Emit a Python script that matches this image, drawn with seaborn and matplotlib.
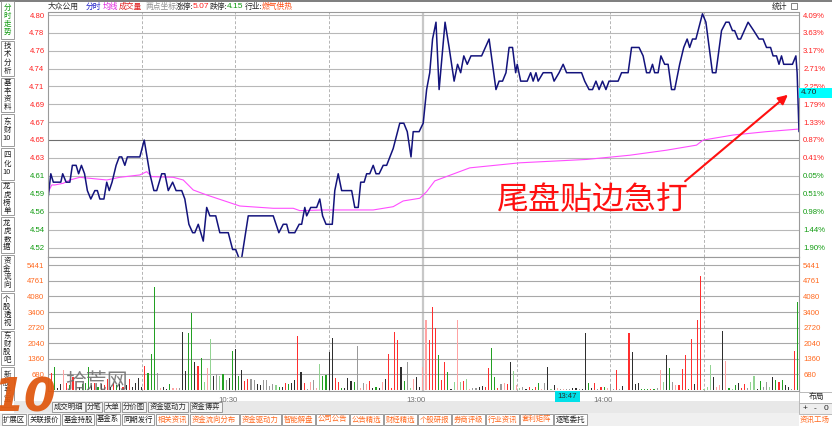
import numpy as np
import pandas as pd
import matplotlib
matplotlib.use("Agg")
import matplotlib.pyplot as plt
from matplotlib.patches import Rectangle
import seaborn as sns

sns.set_style("white")
plt.rcParams["font.family"] = ["Noto Sans CJK SC", "DejaVu Sans"]

# ---------------- data ----------------
pre_close = 4.61
pct_ticks = [4.09, 3.63, 3.17, 2.71, 2.25, 1.79, 1.33, 0.87, 0.41,
             -0.05, -0.51, -0.98, -1.44, -1.90]
price_labels = ["4.80", "4.78", "4.76", "4.74", "4.71", "4.69", "4.67", "4.65",
                "4.63", "4.61", "4.59", "4.56", "4.54", "4.52"]
pct_labels = ["4.09%", "3.63%", "3.17%", "2.71%", "2.25%", "1.79%", "1.33%", "0.87%",
              "0.41%", "0.05%", "0.51%", "0.98%", "1.44%", "1.90%"]
vol_top = 5441
vol_labels = ["5441", "4761", "4080", "3400", "2720", "2040", "1360", "680"]
time_labels = ["10:30", "13:00", "14:00"]
time_minutes = [60, 120, 180]

price_min = [0.0, 0.9, 1.7, 4.1, 4.7, 5.8, 7.0, 7.8, 9.0, 9.8, 10.7, 11.7, 12.6, 13.7,
             15.0, 15.8, 16.6, 17.9, 18.8, 19.6, 20.5, 21.8, 22.8, 23.6, 24.6, 25.4,
             29.4, 30.8, 32.6, 33.9, 34.8, 36.4, 37.4, 38.5, 39.9, 41.0, 42.8, 43.8,
             45.1, 46.3, 47.0, 48.1, 49.7, 50.8, 51.8, 53.7, 55.0, 57.7, 59.1, 60.1,
             61.1, 62.0, 64.1, 72.1, 73.9, 75.3, 76.4, 77.1, 79.0, 80.4, 81.2, 82.2,
             82.8, 84.1, 86.0, 87.0, 87.9, 89.0, 91.0, 91.8, 92.9, 94.0, 97.2, 98.2,
             99.3, 100.1, 101.2, 102.0, 103.0, 104.1, 105.0, 106.0, 107.3, 108.4,
             110.5, 112.6, 113.9, 115.0, 116.2, 116.9, 118.8, 120.1, 121.2, 122.2,
             123.1, 124.2, 125.2, 127.1, 128.4, 130.0, 131.1, 132.1, 133.1, 134.2,
             135.4, 138.8, 141.2, 142.3, 143.4, 144.4, 145.5, 146.6, 147.6, 148.7,
             149.7, 150.2, 151.3, 153.4, 154.5, 155.3, 156.2, 156.9, 158.5, 161.2,
             162.0, 163.6, 164.9, 166.0, 170.8, 171.8, 173.2, 174.3, 175.4, 176.4,
             177.5, 178.6, 179.6, 182.5, 183.6, 185.7, 186.8, 189.2, 190.5, 191.6,
             192.6, 193.5, 194.2, 195.3, 196.2, 197.4, 198.5, 199.6, 200.6, 202.2,
             203.5, 204.6, 205.4, 206.3, 207.4, 208.1, 209.5, 210.6, 212.7, 213.8,
             215.6, 217.0, 218.0, 219.1, 219.8, 220.9, 221.7, 224.1, 225.9, 227.6,
             228.9, 230.0, 231.3, 232.1, 233.2, 234.0, 234.8, 235.5, 238.3, 239.4,
             239.8, 240.4]
price_val = [4.58, 4.61, 4.60, 4.60, 4.61, 4.60, 4.60, 4.62, 4.62, 4.61, 4.62, 4.61, 4.59, 4.58,
             4.59, 4.59, 4.58, 4.58, 4.60, 4.59, 4.60, 4.62, 4.63, 4.63, 4.62, 4.63,
             4.63, 4.65, 4.61, 4.59, 4.59, 4.61, 4.61, 4.59, 4.60, 4.59, 4.59, 4.58,
             4.55, 4.54, 4.54, 4.55, 4.53, 4.57, 4.56, 4.56, 4.54, 4.54, 4.52, 4.52,
             4.51, 4.51, 4.56, 4.56, 4.54, 4.55, 4.55, 4.54, 4.54, 4.55, 4.55, 4.57,
             4.56, 4.57, 4.57, 4.58, 4.56, 4.55, 4.55, 4.59, 4.61, 4.59, 4.59, 4.57,
             4.57, 4.60, 4.60, 4.61, 4.61, 4.62, 4.61, 4.61, 4.62, 4.62,
             4.64, 4.67, 4.67, 4.66, 4.63, 4.66, 4.66, 4.67, 4.71, 4.73,
             4.77, 4.79, 4.71, 4.79, 4.76, 4.72, 4.74, 4.73, 4.75, 4.74,
             4.75, 4.75, 4.77, 4.74, 4.71, 4.72, 4.72, 4.73, 4.76, 4.76,
             4.73, 4.74, 4.72, 4.72, 4.73, 4.72, 4.73, 4.72, 4.73, 4.73,
             4.72, 4.73, 4.74, 4.73, 4.73, 4.72, 4.71, 4.71, 4.72, 4.71,
             4.72, 4.71, 4.72, 4.72, 4.73, 4.73, 4.76, 4.76, 4.75, 4.73,
             4.73, 4.74, 4.73, 4.73, 4.75, 4.74, 4.74, 4.71, 4.71, 4.74,
             4.76, 4.77, 4.76, 4.77, 4.77, 4.78, 4.80, 4.79, 4.73, 4.73,
             4.78, 4.79, 4.79, 4.78, 4.78, 4.77, 4.77, 4.79, 4.78, 4.77,
             4.77, 4.76, 4.76, 4.75, 4.75, 4.74, 4.75, 4.74, 4.74, 4.75,
             4.73, 4.66]

avg_min = [0.0, 1.2, 2.2, 4.9, 7.0, 10.2, 13.4, 18.8, 23.0, 29.4, 31.6, 33.2, 40.1,
           43.3, 46.5, 50.8, 57.2, 61.4, 72.1, 78.5, 80.6, 88.1, 104.1, 110.5, 113.7,
           119.0, 121.2, 123.8, 135.0, 151.0, 172.4, 186.2, 198.0, 207.6, 209.7,
           219.3, 230.0, 240.0]
avg_val = [4.5875, 4.5967, 4.5967, 4.5987, 4.6026, 4.6058, 4.6046, 4.6026, 4.6058,
           4.6086, 4.6125, 4.6066, 4.6058, 4.6026, 4.5907, 4.5848, 4.5769, 4.5717,
           4.5690, 4.5690, 4.5662, 4.5670, 4.5670, 4.5709, 4.5777, 4.5809, 4.5887,
           4.6015, 4.6170, 4.6230, 4.6270, 4.6320, 4.6380, 4.6440, 4.6500, 4.6560,
           4.6600, 4.6630]

# volume per minute (0..240) and colour code per minute
vol = [500, 727, 988, 73, 247, 872, 300, 200, 581, 350,
       150, 250, 290, 1017, 200, 300, 150, 250, 200, 480,
       150, 300, 200, 250, 150, 200, 480, 116, 320, 508,
       116, 1061, 727, 1569, 4475, 727, 102, 116, 44, 247,
       73, 102, 102, 2543, 828, 2499, 3371, 1235, 1046, 1380,
       363, 973, 2223, 610, 697, 610, 697, 436, 508, 1700,
       1787, 610, 872, 392, 480, 480, 436, 262, 218, 436,
       436, 174, 247, 218, 116, 145, 290, 262, 290, 436,
       2354, 770, 290, 44, 334, 436, 73, 1119, 625, 654,
       1671, 2281, 508, 363, 102, 73, 508, 392, 334, 1918,
       73, 290, 262, 392, 73, 145, 73, 334, 480, 1569,
       102, 2543, 2180, 988, 392, 1206, 73, 480, 581, 145,
       1017, 3052, 2180, 3633, 2688, 1526, 436, 1235, 799, 44,
       363, 3052, 334, 392, 480, 44, 102, 102, 145, 189,
       145, 944, 1845, 581, 102, 247, 290, 262, 1206, 828,
       218, 73, 145, 44, 116, 44, 116, 290, 44, 290,
       988, 30, 218, 73, 44, 44, 44, 44, 73, 73,
       44, 44, 2499, 290, 73, 290, 44, 116, 116, 73,
       262, 44, 872, 44, 174, 0, 2499, 1642, 262, 290,
       44, 44, 30, 44, 44, 102, 872, 363, 1526, 944,
       334, 218, 218, 915, 1526, 44, 2209, 262, 3052, 4969,
       44, 145, 1090, 552, 145, 218, 2572, 1279, 102, 44,
       218, 320, 73, 262, 102, 363, 610, 44, 392, 145,
       334, 145, 552, 436, 334, 436, 218, 145, 44, 1700,
       3850]
vol_code = ("rrgkkprgrp" "kgggkrgkrr" "krgkrkrkkk" "krgggspkkg" "ppskkggkrg"
            "lplkslgskg" "kgkrrsskks" "ssslgkrgkk" "rkrspsplgg" "kkrrgkkkgs"
            "psprkgkpkr" "rrrkgslpkk" "pprrrgrrgk" "lplrlpsskk" "rrggrsprkl"
            "plskrgrgps" "klkpspsskk" "skkgkrsrgp" "ssrsk" "krkkk" "gggrgsplkg"
            "sprrrgrkrr" "lllkppkpgl" "gkrrsllkgs" "slkgrgkksr" "g")

left_tabs = ["分时走势", "技术分析", "基本资料", "东财F10", "四化F10", "龙虎榜单",
             "龙虎数据", "资金流向", "个股透视", "东财股吧", "新股寻宝"]
row_a = ["成交明细", "分笔", "大单", "分价图", "资金驱动力", "资金博弈"]
row_b = ["扩展区", "关联报价", "基金持股", "基金系", "同期发行", "相关资讯", "资金流向分布",
         "资金驱动力", "智能解盘", "公司公告", "公告精选", "财经精选", "个股研报", "券商评级",
         "行业资讯", "套利矩阵", "逐笔委托"]

# ---------------- drawing ----------------
W, H = 832, 426
fig = plt.figure(figsize=(W / 100, H / 100), dpi=100)


def fx(x):
    return x / W


def fy(y):
    return 1 - y / H


def rect(x0, y0, x1, y1, fc, ec="none", lw=0.8, z=0):
    fig.add_artist(Rectangle((fx(x0), fy(y1)), (x1 - x0) / W, (y1 - y0) / H,
                             transform=fig.transFigure, fc=fc, ec=ec, lw=lw, zorder=z))


def txt(x, y, s, **kw):
    kw.setdefault("va", "center")
    kw.setdefault("fontsize", 5.6)
    kw.setdefault("zorder", 6)
    fig.text(fx(x), fy(y), s, **kw)


red, green, orange = "#ff2020", "#0f9a0f", "#ff6a20"
num_font = dict(family="Liberation Sans", fontsize=5.6)
px_per_price = 842.0
tick_prices = [pre_close * (1 + p / 100) for p in pct_ticks]

ax_p = fig.add_axes([fx(48), fy(257), 751 / W, 244.5 / H])
ax_v = fig.add_axes([fx(48), fy(391), 751 / W, 134 / H])

for ax in (ax_p, ax_v):
    ax.set_xlim(0, 240.4)
    ax.set_xticks([])
    for s in ax.spines.values():
        s.set_color("#9a9a9a")
        s.set_linewidth(0.8)
    for m in [30, 60, 90, 150, 180, 210]:
        ax.axvline(m, color="#b4b4b4", lw=0.7, ls=(0, (3, 2)), zorder=0)
    ax.axvline(120, color="#c8c8c8", lw=1.6, zorder=0)

# price panel
ax_p.set_ylim(tick_prices[0] - (257 - 15) / px_per_price, tick_prices[0] + 2.5 / px_per_price)
for i, tp in enumerate(tick_prices):
    ax_p.axhline(tp, color="#6e6e6e" if i == 7 else "#b8b8b8", lw=0.8, zorder=0)
ax_p.set_yticks(tick_prices)
ax_p.set_yticklabels(price_labels, **num_font)
ax_p.tick_params(axis="y", length=0, pad=2.5)
for i, lab in enumerate(ax_p.get_yticklabels()):
    lab.set_color(red if i < 9 else green)
axr = ax_p.twinx()
axr.set_ylim(ax_p.get_ylim())
axr.set_yticks(tick_prices)
axr.set_yticklabels(pct_labels, **num_font)
axr.tick_params(axis="y", length=0, pad=3)
for i, lab in enumerate(axr.get_yticklabels()):
    lab.set_color(red if i < 9 else green)
for s in axr.spines.values():
    s.set_visible(False)

avg = pd.DataFrame({"t": avg_min, "p": avg_val})
px = pd.DataFrame({"t": price_min, "p": price_val})
sns.lineplot(data=avg, x="t", y="p", ax=ax_p, color="#ff4dff", lw=0.8, estimator=None)
sns.lineplot(data=px, x="t", y="p", ax=ax_p, color="#13137c", lw=1.1, estimator=None)
ax_p.set_xlabel("")
ax_p.set_ylabel("")

# volume panel
bar_colors = {"r": "#ff2e2e", "p": "#ffa3a3", "g": "#23a023", "l": "#92d392",
              "k": "#2e2e2e", "s": "#999999"}
vtick = [vol_top * k / 8 for k in range(8, 0, -1)]
ax_v.set_ylim(-43.6, 5799)
for v in vtick:
    ax_v.axhline(v, color="#a8a8a8", lw=0.8, zorder=0)
minutes = np.arange(len(vol))
ax_v.bar(minutes, vol, width=0.36, color=[bar_colors[c] for c in vol_code], lw=0)
ax_v.set_yticks(vtick)
ax_v.set_yticklabels(vol_labels, color=orange, **num_font)
ax_v.tick_params(axis="y", length=0, pad=2.5)
axvr = ax_v.twinx()
axvr.set_ylim(ax_v.get_ylim())
axvr.set_yticks(vtick)
axvr.set_yticklabels(vol_labels, color=orange, **num_font)
axvr.tick_params(axis="y", length=0, pad=3)
for s in axvr.spines.values():
    s.set_visible(False)
for m, lab in zip(time_minutes, time_labels):
    ax_v.text(m - 2.3, -0.045, lab, transform=ax_v.get_xaxis_transform(), ha="center",
              va="top", color="#707070", **num_font)

# header
rect(0, 0, W, 1.5, "#808080")
txt(47.5, 7, "大众公用")
txt(86, 7, "分时", color="#1c1cc8")
txt(103, 7, "均线", color="#e020e0")
txt(119, 7, "成交量", color="#e02020")
txt(145, 7, "两点坐标", color="#909090")
txt(176, 7, "涨停:")
txt(192.5, 7, "5.07", color=red, family="Liberation Sans", fontsize=6)
txt(210, 7, "跌停:")
txt(226.5, 7, "4.15", color=green, family="Liberation Sans", fontsize=6)
txt(245, 7, "行业:")
txt(262, 7, "燃气供热", color="#ff4a10")
txt(772, 7, "统计")
rect(791, 3, 797, 9, "white", ec="#707070", lw=0.6)

# left side tabs
edges = [0, 40, 77, 113, 147, 181, 216, 254, 292, 330, 366, 408]
for i, name in enumerate(left_tabs):
    y0, y1 = edges[i], edges[i + 1]
    rect(0.5, y0 + 1, 13.5, y1 - 1, "white", ec="#8c8c8c", lw=0.6)
    if name.endswith("F10"):
        s = "\n".join(list(name[:2])) + "\n10"
    else:
        s = "\n".join(list(name))
    txt(7, (y0 + y1) / 2, s, ha="center", fontsize=5.4, linespacing=1.02,
        color=green if i == 0 else "#202020")

# right side items (cursor price box covers part of the axis label under it)
rect(799, 88, W, 97.5, "#00ffff", z=5)
txt(801, 92.5, "4.70", family="Liberation Sans", fontsize=6)
rect(799, 392, W, 403, "white", ec="#b0b0b0", lw=0.6)
txt(816, 397.5, "布局", ha="center")
rect(799, 403, W, 414, "#eeeeee", ec="#b0b0b0", lw=0.6)
for x, s in zip([805, 815, 826], ["+", "-", "0"]):
    txt(x, 408.5, s, ha="center", family="Liberation Sans", fontsize=6)
txt(815, 420, "资讯工场", ha="center", color=orange, fontsize=5.4)

# cursor time label
rect(555, 391, 580, 402, "#00e0e8", z=5)
txt(567.5, 396.5, "13:47", ha="center", color="#303030", **num_font)

# bottom tab rows
rect(14, 401, 799, 413, "#e8e8e8")
rect(0, 413, 799, 426, "#f0f0f0")
x = 52
for name in row_a:
    w = 8.1 * len(name) + 1.6
    rect(x, 402, x + w - 1.5, 412, "#f6f6f6", ec="#8c8c8c", lw=0.6)
    txt(x + (w - 1.5) / 2, 407, name, ha="center", fontsize=5.3)
    x += w
x = 2
for i, name in enumerate(row_b):
    w = 8.1 * len(name) + 1.6
    rect(x, 414, x + w - 1.5, 425, "white", ec="#8c8c8c", lw=0.6)
    col = "#202020" if i < 5 or i == len(row_b) - 1 else orange
    txt(x + (w - 1.5) / 2, 419.5, name, ha="center", color=col, fontsize=5.3)
    x += w

# annotation
txt(497, 200, "尾盘贴边急打", fontsize=23, color="#ff1010")
ax_p.annotate("", xy=(790, H - 93), xytext=(683, H - 183), xycoords="figure pixels",
              textcoords="figure pixels",
              arrowprops=dict(arrowstyle="-|>", color="#ff1010", lw=1.5, mutation_scale=14))

# watermark
txt(24, 421, "10", ha="center", va="bottom", fontsize=33, color="#e05a12", weight="bold",
    style="italic", family="DejaVu Sans", alpha=0.95, zorder=7)
txt(96, 382, "拾荒网", ha="center", fontsize=15, color="#6a6a6a", alpha=0.85, zorder=7)

fig.savefig("out.png", dpi=100)
